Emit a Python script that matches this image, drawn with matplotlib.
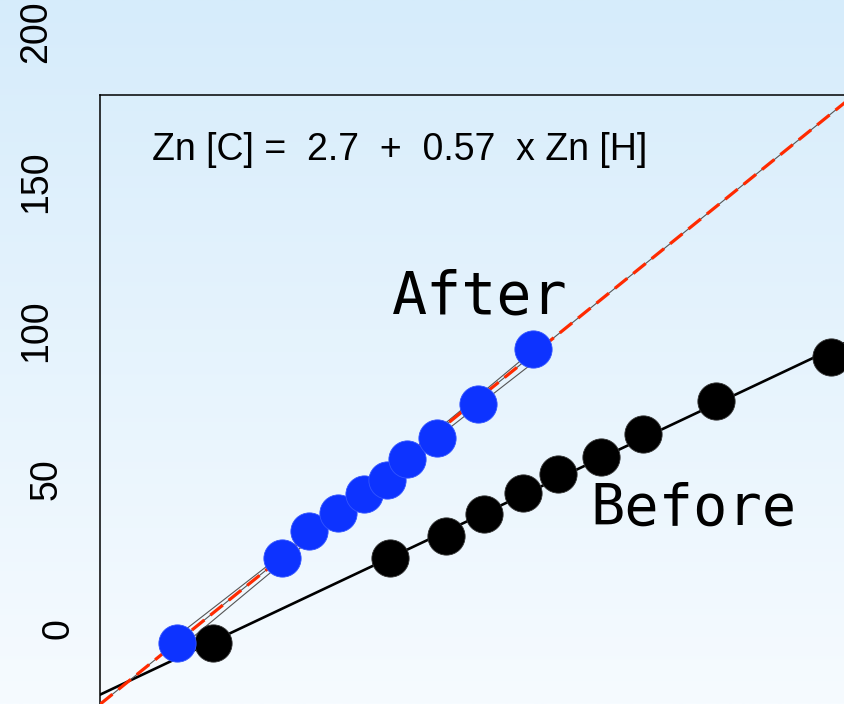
import numpy as np
import matplotlib
matplotlib.use('Agg')
import matplotlib.pyplot as plt
from matplotlib.transforms import blended_transform_factory

# values
after_x = [-4.5, 24.0, 31.3, 39.1, 46.2, 52.4, 57.8, 65.9, 77.0, 91.9]
after_y = [-4.8, 23.7, 32.8, 38.8, 45.2, 49.9, 56.9, 63.9, 75.3, 93.7]
before_x = [5.3, 53.2, 68.4, 78.6, 89.2, 98.7, 110.3, 121.7, 141.4, 172.6]
before_y = [-4.8, 23.7, 31.1, 38.5, 45.5, 51.9, 57.6, 65.3, 76.3, 91.1]
ref_line = (0.0, 1.0)  # intercept, slope of the 1:1 line
y_ticks = [0, 50, 100, 150, 200]
equation = "Zn [C] =  2.7  +  0.57  x Zn [H]"

W, H = 845, 704
fig = plt.figure(figsize=(W / 100, H / 100), dpi=100)

# background gradient
bg = fig.add_axes([0, 0, 1, 1], zorder=-10)
top = np.array([214, 236, 251]) / 255
bot = np.array([246, 251, 255]) / 255
t = np.linspace(0, 1, 256)[:, None]
grad = top[None, :] * (1 - t) + bot[None, :] * t
bg.imshow(grad[:, None, :], aspect='auto', extent=[0, 1, 0, 1])
bg.axis('off')

ax = fig.add_axes([100 / W, 0, 745 / W, 609 / H])
ax.patch.set_visible(False)
ax.set_xlim(-25.3, 176.4)
ax.set_ylim(-25.2, 178.9)
for side in ['right', 'bottom']:
    ax.spines[side].set_visible(False)
for side in ['left', 'top']:
    ax.spines[side].set_linewidth(1.1)
ax.set_xticks([])
ax.set_yticks([])

xx = np.array(ax.get_xlim())

# before: fit line
bx, by = np.array(before_x), np.array(before_y)
b_slope, b_int = np.polyfit(bx, by, 1)
ax.plot(xx, b_int + b_slope * xx, color='black', lw=1.9, zorder=2)

# after: confidence band around the fit
ax_, ay_ = np.array(after_x), np.array(after_y)
a_slope, a_int = np.polyfit(ax_, ay_, 1)
n = len(ax_)
resid = ay_ - (a_int + a_slope * ax_)
s = np.sqrt(np.sum(resid ** 2) / (n - 2))
sxx = np.sum((ax_ - ax_.mean()) ** 2)
xb = np.linspace(ax_.min(), ax_.max(), 100)
yb = a_int + a_slope * xb
se = s * np.sqrt(1 / n + (xb - ax_.mean()) ** 2 / sxx)
tval = 2.306
ax.plot(xb, yb - tval * se, color='#555555', lw=0.8, zorder=2)
ax.plot(xb, yb + tval * se, color='#555555', lw=0.8, zorder=2)

# 1:1 line (thin grey under red dashes)
ref_y = ref_line[0] + ref_line[1] * xx
ax.plot(xx, ref_y, color='#555555', lw=0.8, zorder=2)
ax.plot(xx, ref_y, color='#FF2A00', lw=2.3, linestyle=(0, (5, 2.4)), zorder=3)

ax.scatter(bx, by, s=720, color='black', edgecolor='#333333', lw=0.6,
           zorder=4, clip_on=False)
ax.scatter(ax_, ay_, s=720, color='#0D33FF', edgecolor='#3355FF', lw=0.6,
           zorder=5, clip_on=False)

# texts
ax.text(0.070, 0.893, equation, transform=ax.transAxes, fontsize=27,
        family='Liberation Sans', ha='left', va='baseline')
ax.text(0.392, 0.642, 'After', transform=ax.transAxes, fontsize=42,
        family='DejaVu Sans Mono', ha='left', va='baseline')
ax.text(0.658, 0.294, 'Before', transform=ax.transAxes, fontsize=41,
        family='DejaVu Sans Mono', ha='left', va='baseline')

# y labels (rotated, sitting outside the box)
label_px = [59, 47, 36, 36, 36]
trans = blended_transform_factory(ax.transAxes, ax.transData)
for v, px in zip(y_ticks, label_px):
    ax.text((px - 100) / 745, v, str(v), transform=trans, rotation=90,
            ha='center', va='center', fontsize=27, family='Liberation Sans',
            clip_on=False)

fig.savefig('out.png', dpi=100)
